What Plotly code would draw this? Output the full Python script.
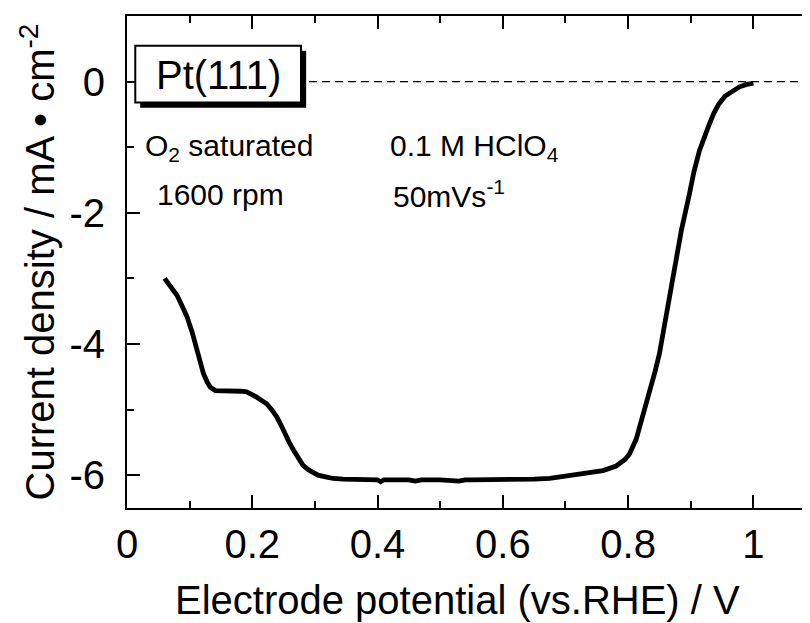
import plotly.graph_objects as go

# ---- data ----
potential_V = [0.060, 0.070, 0.080, 0.088, 0.096, 0.104, 0.112, 0.118, 0.122, 0.128,
               0.133, 0.141, 0.155, 0.170, 0.182, 0.191, 0.200, 0.207, 0.215, 0.223,
               0.231, 0.239, 0.246, 0.252, 0.259, 0.266, 0.273, 0.281, 0.290, 0.297,
               0.305, 0.319, 0.329, 0.345, 0.382, 0.400, 0.405, 0.410, 0.450, 0.460,
               0.470, 0.500, 0.530, 0.540, 0.550, 0.600, 0.650, 0.675, 0.700, 0.720,
               0.744, 0.760, 0.781, 0.795, 0.802, 0.807, 0.813, 0.818, 0.823, 0.830,
               0.837, 0.843, 0.850, 0.855, 0.861, 0.866, 0.875, 0.885, 0.898, 0.905,
               0.914, 0.922, 0.930, 0.937, 0.945, 0.955, 0.967, 0.978, 0.988, 1.000]
current_mA = [-3.00, -3.12, -3.26, -3.42, -3.59, -3.82, -4.10, -4.32, -4.45, -4.58,
              -4.66, -4.71, -4.71, -4.71, -4.72, -4.73, -4.77, -4.81, -4.86, -4.91,
              -5.00, -5.11, -5.24, -5.37, -5.50, -5.62, -5.74, -5.85, -5.92, -5.96,
              -6.00, -6.03, -6.05, -6.06, -6.07, -6.07, -6.10, -6.07, -6.07, -6.09,
              -6.07, -6.07, -6.09, -6.07, -6.07, -6.07, -6.06, -6.05, -6.02, -5.99,
              -5.96, -5.93, -5.86, -5.76, -5.68, -5.57, -5.45, -5.28, -5.11, -4.88,
              -4.66, -4.42, -4.15, -3.88, -3.59, -3.34, -2.82, -2.27, -1.71, -1.38,
              -1.05, -0.82, -0.64, -0.48, -0.34, -0.22, -0.137, -0.08, -0.046, -0.025]

baseline_x = [0.0, 1.1]
baseline_y = [0.0, 0.0]

x_tick_vals = [0, 0.2, 0.4, 0.6, 0.8, 1.0]
x_tick_text = ["0", "0.2", "0.4", "0.6", "0.8", "1"]
y_tick_vals = [0, -2, -4, -6]
y_tick_text = ["0", "-2", "-4", "-6"]

x_title = "Electrode potential (vs.RHE) / V"
y_title = "Current density / mA • cm<sup>-2</sup>"
label_sample = "Pt(111)"
label_gas = "O<sub>2</sub> saturated"
label_rpm = "1600 rpm"
label_electrolyte = "0.1 M HClO<sub>4</sub>"
label_rate = "50mVs<sup>-1</sup>"

FONT = "Liberation Sans, Arial, Helvetica, sans-serif"
XR = [0, 1.1]
YR = [-6.5, 1.0]

fig = go.Figure()
fig.add_trace(go.Scatter(x=baseline_x, y=baseline_y, mode="lines",
                         line=dict(color="black", width=1.4, dash="8px,5px"),
                         showlegend=False, hoverinfo="skip"))
fig.add_trace(go.Scatter(x=potential_V, y=current_mA, mode="lines",
                         line=dict(color="black", width=4.8),
                         showlegend=False))

# label box with shadow
fig.add_shape(type="rect", xref="x", yref="y", x0=0.021, x1=0.286, y0=-0.40, y1=0.47,
              fillcolor="black", line=dict(width=0), layer="above")
fig.add_shape(type="rect", xref="x", yref="y", x0=0.0132, x1=0.2778, y0=-0.32, y1=0.548,
              fillcolor="white", line=dict(color="black", width=2), layer="above")
fig.add_annotation(x=0.1455, y=0.10, xref="x", yref="y", text=label_sample, showarrow=False,
                   font=dict(family=FONT, size=40, color="black"))

ann_font = dict(family=FONT, size=30, color="black")
fig.add_annotation(x=0.026, y=-1.0, xref="x", yref="y", text=label_gas, showarrow=False,
                   xanchor="left", yanchor="middle", font=ann_font)
fig.add_annotation(x=0.045, y=-1.72, xref="x", yref="y", text=label_rpm, showarrow=False,
                   xanchor="left", yanchor="middle", font=ann_font)
fig.add_annotation(x=0.417, y=-1.0, xref="x", yref="y", text=label_electrolyte, showarrow=False,
                   xanchor="left", yanchor="middle", font=ann_font)
fig.add_annotation(x=0.422, y=-1.72, xref="x", yref="y", text=label_rate, showarrow=False,
                   xanchor="left", yanchor="middle", font=ann_font)

# x-axis title (slightly left of the plot-box centre, as in the reference)
fig.add_annotation(x=0.479, y=-0.186, xref="paper", yref="paper", text=x_title,
                   showarrow=False, xanchor="center", yanchor="middle",
                   font=dict(family=FONT, size=40, color="black"))

fig.update_layout(
    width=808, height=623,
    margin=dict(l=119, r=0, t=8, b=123, autoexpand=False),
    paper_bgcolor="white", plot_bgcolor="white",
    font=dict(family=FONT, size=40, color="black"),
    xaxis=dict(range=XR, showline=True, linecolor="black", linewidth=2, mirror="ticks",
               ticks="inside", ticklen=13, tickwidth=2, tickcolor="black",
               tickmode="array", tickvals=x_tick_vals, ticktext=x_tick_text,
               minor=dict(dtick=0.1, tick0=0, ticks="inside", ticklen=7, tickwidth=2,
                          tickcolor="black", showgrid=False),
               showgrid=False, zeroline=False, automargin=False,
               tickfont=dict(family=FONT, size=40)),
    yaxis=dict(range=YR, showline=True, linecolor="black", linewidth=2, mirror="ticks",
               ticks="inside", ticklen=13, tickwidth=2, tickcolor="black",
               tickmode="array", tickvals=y_tick_vals, ticktext=y_tick_text,
               minor=dict(dtick=1, tick0=0, ticks="inside", ticklen=7, tickwidth=2,
                          tickcolor="black", showgrid=False),
               showgrid=False, zeroline=False, ticklabelstandoff=12, automargin=False,
               tickfont=dict(family=FONT, size=40),
               title=dict(text=y_title, font=dict(family=FONT, size=40), standoff=2)),
)

fig.write_html("out.html")
